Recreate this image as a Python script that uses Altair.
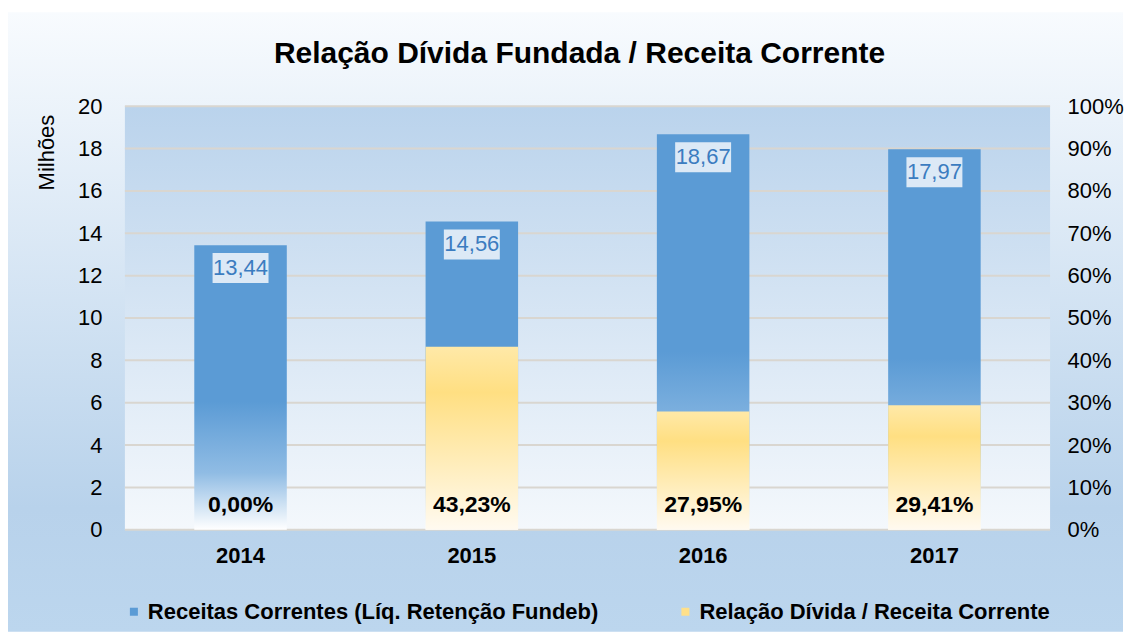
import altair as alt
import pandas as pd

# ---------------- data ----------------
years = ["2014", "2015", "2016", "2017"]
receitas = [13.44, 14.56, 18.67, 17.97]          # Milhões (eixo esquerdo)
relacao = [0.00, 43.23, 27.95, 29.41]            # % (eixo direito)
series_names = ["Receitas Correntes (Líq. Retenção Fundeb)",
                "Relação Dívida / Receita Corrente"]
series_colors = ["#5b9bd5", "#ffe08a"]
left_ticks = [0, 2, 4, 6, 8, 10, 12, 14, 16, 18, 20]
right_ticks = [0, 10, 20, 30, 40, 50, 60, 70, 80, 90, 100]
title_text = "Relação Dívida Fundada / Receita Corrente"
y_title = "Milhões"

# ---------------- layout / style ----------------
W, H = 926, 424
FONT = "Liberation Sans"

df = pd.DataFrame({"ano": years, "receita": receitas, "relacao": relacao})
df["receita_lbl"] = [f"{v:.2f}".replace(".", ",") for v in receitas]
df["relacao_lbl"] = [f"{v:.2f}".replace(".", ",") + "%" for v in relacao]
df["zero"] = 0


def lin(stops):
    return {"gradient": "linear", "x1": 0, "x2": 0, "y1": 0, "y2": 1,
            "stops": [{"offset": o, "color": c} for o, c in stops]}


grad_outer = lin([(0, "#f8fbfe"), (0.8, "#b8d2eb"), (1, "#bcd6ee")])
grad_plot = lin([(0, "#bad3ec"), (1, "#f4f8fc")])
grad_blue = lin([(0, "#5b9bd5"), (0.55, "#5b9bd5"), (0.8, "#90bce4"), (1, "#ffffff")])
grad_yellow = lin([(0, "#ffe9a8"), (0.25, "#ffdf82"), (1, "#fffaf0")])

one = pd.DataFrame({"k": [0]})

x_enc = alt.X(
    "ano:N", sort=years,
    scale=alt.Scale(paddingInner=0.6, paddingOuter=0.3),
    axis=alt.Axis(title=None, labelFont=FONT, labelFontSize=22, labelFontWeight="bold",
                  labelColor="#000", labelPadding=16, ticks=False, domain=False,
                  labelAngle=0, grid=False, zindex=1),
)

bg_outer = alt.Chart(one).mark_rect(fill=grad_outer).encode(
    x=alt.value(-117), x2=alt.value(W + 73), y=alt.value(-94), y2=alt.value(H + 102)
)
bg_plot = alt.Chart(one).mark_rect(fill=grad_plot).encode(
    x=alt.value(0), x2=alt.value(W), y=alt.value(0), y2=alt.value(H)
)
title_mark = alt.Chart(one).mark_text(
    text=title_text, font=FONT, fontSize=30, fontWeight="bold", color="#000",
    align="center", baseline="alphabetic"
).encode(x=alt.value(W / 2 - 8), y=alt.value(-43))

grid = alt.Chart(pd.DataFrame({"v": left_ticks})).mark_rule(
    color="#d9d6d0", strokeWidth=2
).encode(y=alt.Y("v:Q", scale=alt.Scale(domain=[0, 20], nice=False), axis=None))

yL = alt.Y(
    "receita:Q", scale=alt.Scale(domain=[0, 20], nice=False),
    axis=alt.Axis(orient="left", values=left_ticks, title=y_title, titleFont=FONT,
                  titleFontSize=22, titleFontWeight="normal", titleColor="#000",
                  titleAngle=-90, titleX=-78, titleY=8, titleAlign="right",
                  titleBaseline="middle",
                  labelFont=FONT, labelFontSize=22, labelColor="#000", labelPadding=23,
                  ticks=False, domain=False, grid=False, zindex=1),
)

base = alt.Chart(df)
BOX = "M-1,-0.536H1V0.536H-1Z"

blue_bar = base.mark_bar(fill=grad_blue).encode(x=x_enc, y=yL)
blue_box = base.mark_point(shape=BOX, size=3136, filled=True, fill="#dce9f6",
                           opacity=1, strokeWidth=0, yOffset=23).encode(x=x_enc, y=yL)
blue_txt = base.mark_text(font=FONT, fontSize=22, color="#3b7cc0", baseline="middle",
                          dy=23).encode(x=x_enc, y=yL, text="receita_lbl:N")
blue = alt.layer(blue_bar, blue_box, blue_txt)

right_axis = alt.Axis(orient="right", values=right_ticks, title=None,
                      labelExpr="datum.value + '%'", labelFont=FONT, labelFontSize=22,
                      labelColor="#000", labelPadding=17, ticks=False, domain=False,
                      grid=False, zindex=1)
yR_scale = alt.Scale(domain=[0, 100], nice=False)

yel_bar = base.mark_bar(fill=grad_yellow).encode(
    x=x_enc, y=alt.Y("relacao:Q", scale=yR_scale, axis=right_axis))
yel_txt = base.mark_text(font=FONT, fontSize=23, fontWeight="bold", color="#000",
                         baseline="middle", dy=-25).encode(
    x=x_enc, y=alt.Y("zero:Q", scale=yR_scale, axis=right_axis), text="relacao_lbl:N")
yellow = alt.layer(yel_bar, yel_txt)

legend_layer = alt.Chart(pd.DataFrame({"serie": series_names})).mark_square(
    opacity=0
).encode(
    x=alt.value(0), y=alt.value(0),
    color=alt.Color("serie:N",
                    scale=alt.Scale(domain=series_names, range=series_colors),
                    legend=alt.Legend(orient="none", legendX=-2, legendY=495,
                                      direction="horizontal", title=None,
                                      symbolType="square", symbolSize=64,
                                      symbolOpacity=1, symbolStrokeWidth=0,
                                      labelFont=FONT, labelFontSize=22,
                                      labelFontWeight="bold", labelColor="#000",
                                      labelOffset=3, columnPadding=75,
                                      labelLimit=800, padding=0)),
)

chart = alt.layer(
    bg_outer, bg_plot, title_mark, grid, blue, yellow, legend_layer
).resolve_scale(y="independent").properties(
    width=W, height=H, background="white",
    padding={"left": 0, "top": 4, "right": 0, "bottom": 0},
).configure_view(strokeWidth=0)

chart.save("out.html", embed_options={"renderer": "svg", "actions": False})
